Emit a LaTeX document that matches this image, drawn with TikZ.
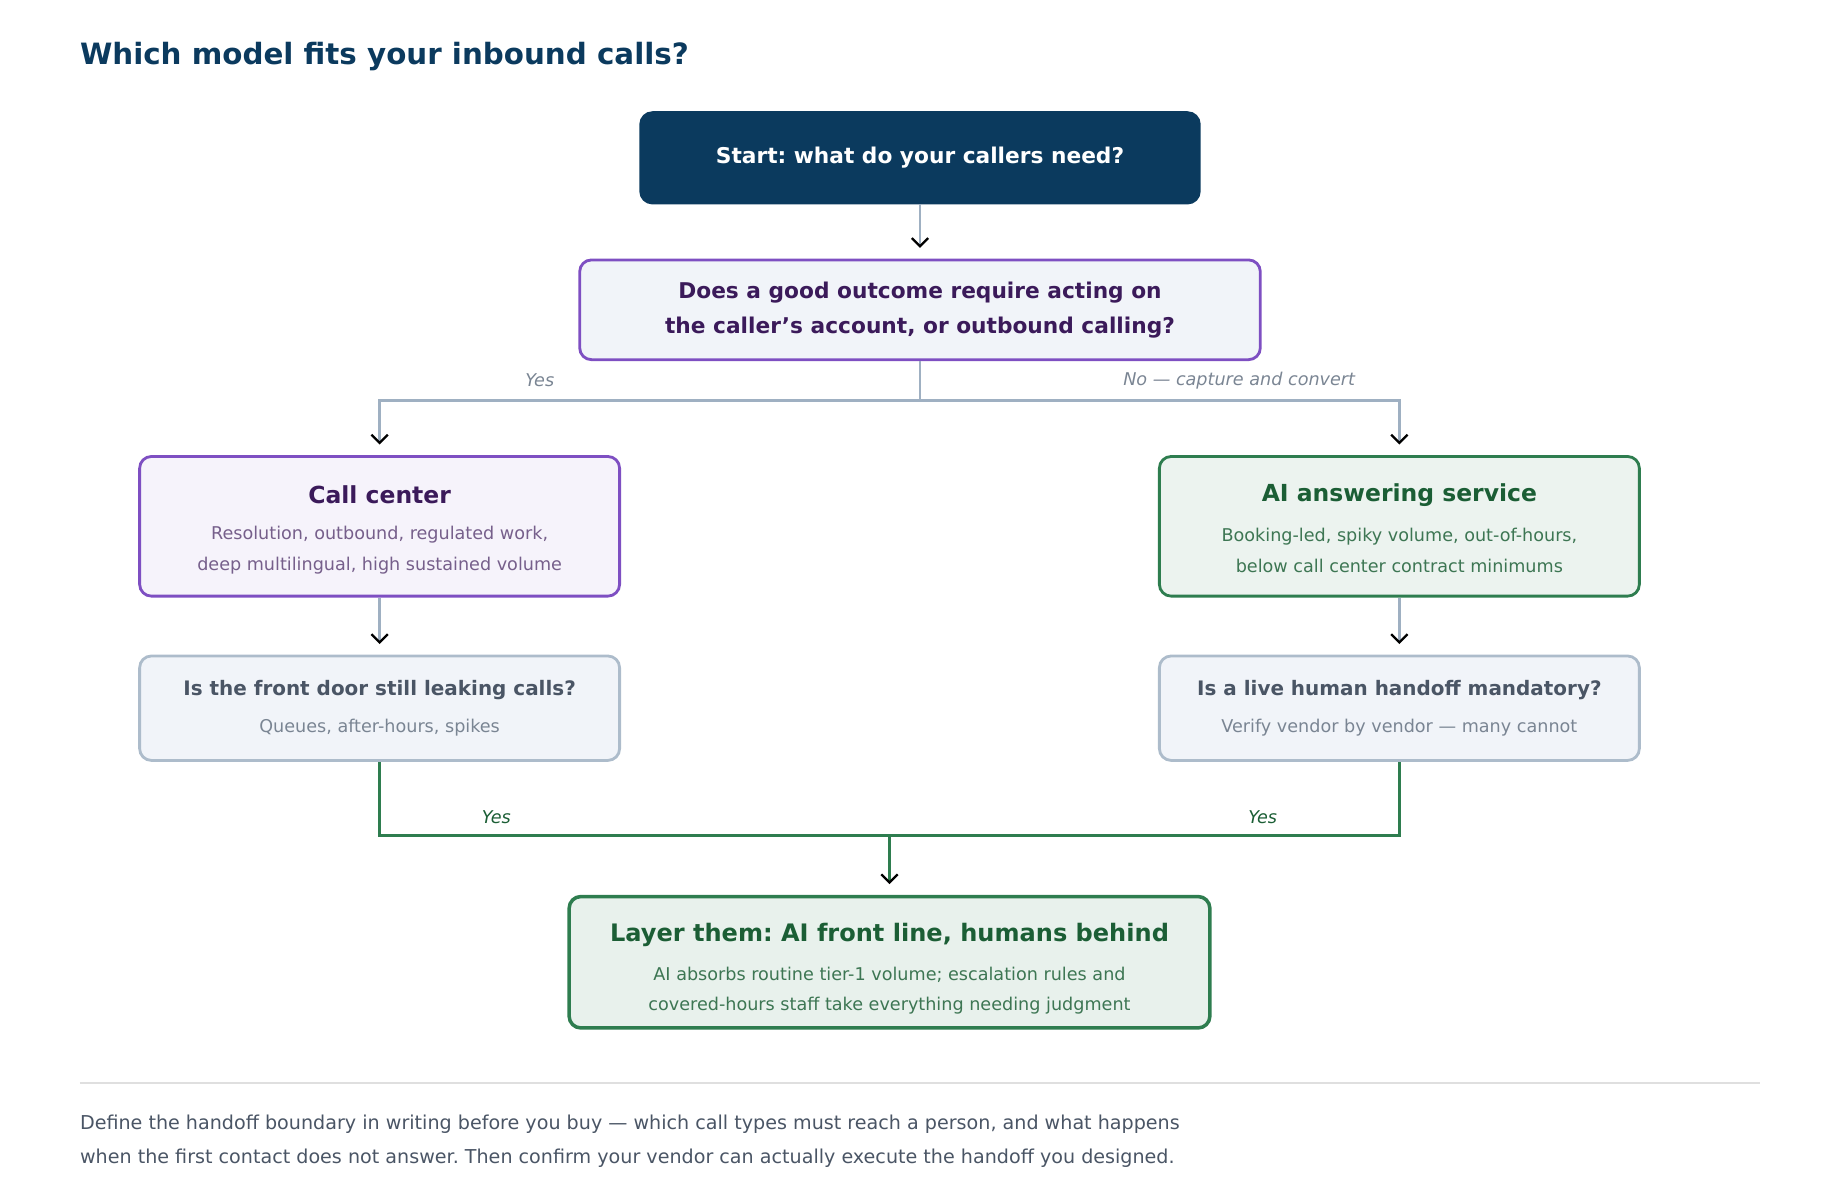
\documentclass[tikz,border=0pt]{standalone}
\usepackage{fontspec}
\setmainfont{DejaVu Sans}
\usetikzlibrary{arrows.meta, positioning}
\definecolor{navy}{HTML}{0B3A5E}
\definecolor{purp}{HTML}{7E4FC2}
\definecolor{purpdark}{HTML}{3B1A5A}
\definecolor{grn}{HTML}{2E7D4F}
\definecolor{grndark}{HTML}{1B5E35}
\definecolor{edgegray}{HTML}{9FB0C2}
\definecolor{slate}{HTML}{4A5565}
\definecolor{mute}{HTML}{7A8593}
\definecolor{paleblue}{HTML}{F1F4F9}
\tikzset{
  box/.style={rounded corners=10pt, line width=2.4pt, align=center, inner sep=0pt},
  flow/.style={line width=2.4pt, -{Straight Barb[black, length=7pt, width=14pt, line width=2pt]}},
  lbl/.style={font=\fontsize{15}{18}\selectfont\itshape}
}
\begin{document}
\frenchspacing
\begin{tikzpicture}[x=1pt, y=-1pt]
    \useasboundingbox (0,0) rectangle (1568,1022);

    \node[anchor=west, inner sep=0pt, text=navy, font=\fontsize{25}{30}\selectfont\bfseries] (title) at (68,48) {Which model fits your inbound calls?};

    % boxes
    \node[box, fill=navy, draw=navy, minimum width=476pt, minimum height=77pt, text=white,
          font=\fontsize{18.5}{22}\selectfont\bfseries] (start) at (784,134.5) {Start: what do your callers need?};
    \node[box, fill=paleblue, draw=purp, minimum width=580pt, minimum height=85pt, text=purpdark,
          font=\fontsize{18.5}{30}\selectfont\bfseries] (ask) at (784,264)
          {Does a good outcome require acting on\\the caller\char"27 s account, or outbound calling?};
    \node[box, fill=purp!7, draw=purp, minimum width=409pt, minimum height=119pt] (center) at (323.5,448.5) {};
    \node[box, fill=grn!9, draw=grn, minimum width=409pt, minimum height=119pt] (ai) at (1192.5,448.5) {};
    \node[box, fill=paleblue, draw=edgegray!85, minimum width=409pt, minimum height=89pt] (leak) at (323.5,603.5) {};
    \node[box, fill=paleblue, draw=edgegray!85, minimum width=409pt, minimum height=89pt] (human) at (1192.5,603.5) {};
    \node[box, fill=grn!11, draw=grn, line width=3pt, minimum width=546pt, minimum height=112pt] (layer) at (758,820) {};

    % box texts
    \node[text=purpdark, font=\fontsize{20}{24}\selectfont\bfseries] (centert) at (323.5,422) {Call center};
    \node[text=purpdark!70, align=center, font=\fontsize{15}{26}\selectfont] (centerd) at (323.5,469) {Resolution, outbound, regulated work,\\deep multilingual, high sustained volume};
    \node[text=grndark, font=\fontsize{20}{24}\selectfont\bfseries] (ait) at (1192.5,422) {AI answering service};
    \node[text=grndark!85, align=center, font=\fontsize{15}{26}\selectfont] (aid) at (1192.5,469) {Booking-led, spiky volume, out-of-hours,\\below call center contract minimums};
    \node[text=slate, font=\fontsize{17}{20}\selectfont\bfseries] (leakt) at (323.5,588) {Is the front door still leaking calls?};
    \node[text=mute, font=\fontsize{15}{18}\selectfont] (leakd) at (323.5,620) {Queues, after-hours, spikes};
    \node[text=slate, font=\fontsize{17}{20}\selectfont\bfseries] (humant) at (1192.5,588) {Is a live human handoff mandatory?};
    \node[text=mute, font=\fontsize{15}{18}\selectfont] (humand) at (1192.5,620) {Verify vendor by vendor --- many cannot};
    \node[text=grndark, font=\fontsize{20.5}{24}\selectfont\bfseries] (layert) at (758,797) {Layer them: AI front line, humans behind};
    \node[text=grndark!85, align=center, font=\fontsize{15}{26}\selectfont] (layerd) at (758,844) {AI absorbs routine tier-1 volume; escalation rules and\\covered-hours staff take everything needing judgment};

    % connectors
    \coordinate (split) at (784,341);
    \coordinate (join) at (758,712);
    \draw[flow, draw=edgegray] (start) -- ([yshift=9pt]ask.north);
    \draw[flow, draw=edgegray] (ask.south) -- (split) -| ([yshift=9pt]center.north);
    \draw[flow, draw=edgegray] (split) -| ([yshift=9pt]ai.north);
    \draw[flow, draw=edgegray] (center) -- ([yshift=9pt]leak.north);
    \draw[flow, draw=edgegray] (ai) -- ([yshift=9pt]human.north);
    \draw[line width=2.6pt, draw=grn] (leak.south) |- (join) -| (human.south);
    \draw[flow, draw=grn] (join) -- ([yshift=9pt]layer.north);

    \node[lbl, text=mute] (yes1) at (460,324) {Yes};
    \node[lbl, text=mute] (no1) at (1056,324) {No --- capture and convert};
    \node[lbl, text=grndark] (yes2) at (423,696) {Yes};
    \node[lbl, text=grndark] (yes3) at (1076,696) {Yes};

    % footer
    \draw[gray!25, line width=1.3pt] (68,923) -- (1500,923);
    \node[anchor=west, inner sep=0pt, align=left, text=slate, font=\fontsize{16.3}{29}\selectfont] (note) at (68,972.5)
      {Define the handoff boundary in writing before you buy --- which call types must reach a person, and what happens\\when the first contact does not answer. Then confirm your vendor can actually execute the handoff you designed.};
\end{tikzpicture}
\end{document}
